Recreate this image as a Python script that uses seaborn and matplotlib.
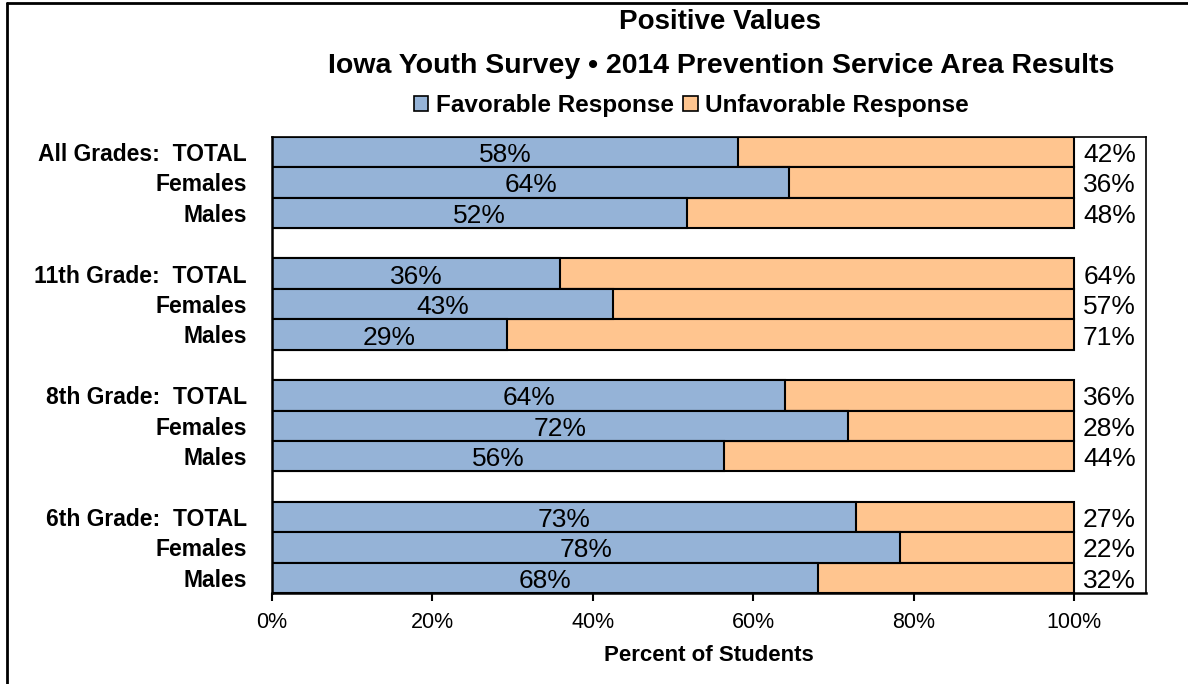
import matplotlib.pyplot as plt
import matplotlib as mpl
import seaborn as sns
import pandas as pd
from matplotlib.patches import Patch
from matplotlib.lines import Line2D

# chart values
groups = ['All Grades:  TOTAL', 'Females', 'Males',
          '11th Grade:  TOTAL', 'Females', 'Males',
          '8th Grade:  TOTAL', 'Females', 'Males',
          '6th Grade:  TOTAL', 'Females', 'Males']
rows = [0, 1, 2, 4, 5, 6, 8, 9, 10, 12, 13, 14]
favorable = [58.1, 64.5, 51.7, 35.9, 42.5, 29.3, 64.0, 71.8, 56.4, 72.8, 78.3, 68.0]
unfavorable = [41.9, 35.5, 48.3, 64.1, 57.5, 70.7, 36.0, 28.2, 43.6, 27.2, 21.7, 32.0]
fav_labels = ['58%', '64%', '52%', '36%', '43%', '29%', '64%', '72%', '56%', '73%', '78%', '68%']
unfav_labels = ['42%', '36%', '48%', '64%', '57%', '71%', '36%', '28%', '44%', '27%', '22%', '32%']
xticks = [0, 20, 40, 60, 80, 100]
xtick_labels = ['0%', '20%', '40%', '60%', '80%', '100%']

blue = '#95B3D7'
orange = '#FFC58F'

df = pd.DataFrame({'row': rows, 'group': groups, 'fav': favorable, 'unfav': unfavorable})
df['total'] = df['fav'] + df['unfav']

sns.set_theme(style='white')
plt.rcParams['font.family'] = ['Liberation Sans', 'DejaVu Sans']
plt.rcParams['text.color'] = 'black'
plt.rcParams['xtick.color'] = 'black'
plt.rcParams['ytick.color'] = 'black'
plt.rcParams['axes.labelcolor'] = 'black'

fig = plt.figure(figsize=(11.88, 6.84), dpi=100)
ax = fig.add_axes([0.229, 0.133, 0.736, 0.667])

# orange full bar underneath, blue favorable bar on top
sns.barplot(data=df, x='total', y='row', orient='h', native_scale=True, width=1.0,
            color=orange, saturation=1, edgecolor='black', linewidth=1.5, ax=ax)
sns.barplot(data=df, x='fav', y='row', orient='h', native_scale=True, width=1.0,
            color=blue, saturation=1, edgecolor='black', linewidth=1.5, ax=ax)

for r, f, fl, ul in zip(df['row'], df['fav'], fav_labels, unfav_labels):
    ax.text(f / 2, r + 0.1, fl, ha='center', va='center', fontsize=19)
    ax.text(104.4, r + 0.1, ul, ha='center', va='center', fontsize=19)

ax.set_xlim(0, 109)
ax.set_ylim(14.5, -0.5)
ax.set_yticks(rows)
ax.set_yticklabels(groups, fontsize=16.5, fontweight='bold')
ax.set_xticks(xticks)
ax.set_xticklabels(xtick_labels, fontsize=15.5)
ax.tick_params(axis='x', direction='out', length=6, width=1.5, color='black', bottom=True, pad=8)
ax.tick_params(axis='y', length=0, pad=18)
ax.set_xlabel('Percent of Students', fontsize=16, fontweight='bold', labelpad=8)
ax.set_ylabel('')
for s in ax.spines.values():
    s.set_color('black')
    s.set_linewidth(1.2)
ax.spines['left'].set_linewidth(1.8)
ax.spines['bottom'].set_linewidth(1.8)

fig.text(0.606, 0.968, 'Positive Values', ha='center', va='center', fontsize=20, fontweight='bold')
fig.text(0.607, 0.904, 'Iowa Youth Survey \u2022 2014 Prevention Service Area Results',
         ha='center', va='center', fontsize=20.5, fontweight='bold')

handles = [Patch(facecolor=blue, edgecolor='black', linewidth=1.2),
           Patch(facecolor=orange, edgecolor='black', linewidth=1.2)]
fig.legend(handles, ['Favorable Response', 'Unfavorable Response'], loc='center',
           bbox_to_anchor=(0.582, 0.846), ncol=2, frameon=False,
           prop={'weight': 'bold', 'size': 17.5}, handlelength=0.6, handleheight=0.6,
           handletextpad=0.3, columnspacing=0.4)

# figure frame on top and left
fig.add_artist(Line2D([0.006, 0.006], [0, 0.996], transform=fig.transFigure, color='black', linewidth=2))
fig.add_artist(Line2D([0.006, 1.0], [0.996, 0.996], transform=fig.transFigure, color='black', linewidth=2))

fig.savefig('out.png', dpi=100)
